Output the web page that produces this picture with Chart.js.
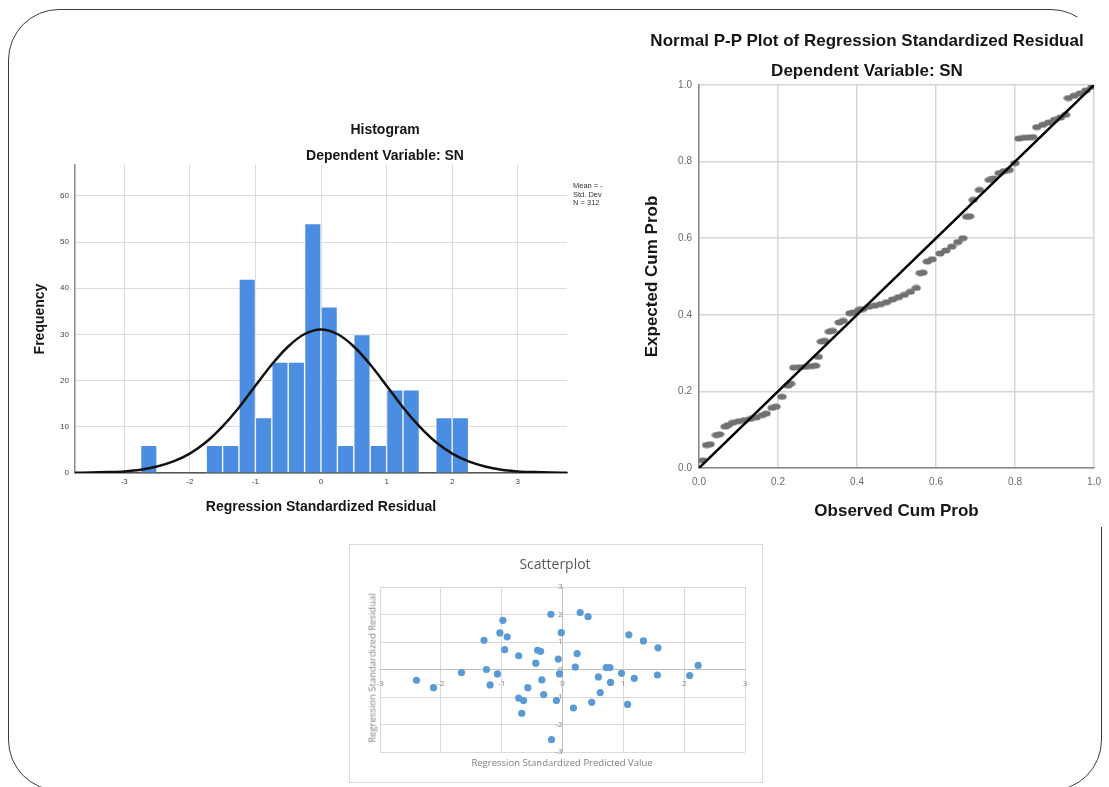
<!DOCTYPE html>
<html>
<head>
<meta charset="utf-8">
<script src="https://cdn.jsdelivr.net/npm/chart.js@4.4.0/dist/chart.umd.min.js"></script>
<style>
body { margin:0; background:#fff; width:1109px; height:787px; overflow:hidden; position:relative; font-family:"Liberation Sans", Arial, sans-serif; }
.frame { position:absolute; left:8px; top:9px; width:1094px; height:782px; border:1.5px solid #3c3c3c; border-radius:51px; box-sizing:border-box; }
.box { position:absolute; background:#fff; }
.t { position:absolute; white-space:nowrap; font-weight:bold; color:#161616; transform:translate(-50%,-50%); }
.legend { position:absolute; left:573px; top:182px; font-size:7.5px; line-height:8.5px; color:#333; width:38px; overflow:hidden; white-space:nowrap; }
.xl { position:absolute; white-space:nowrap; font-family:"Open Sans", sans-serif; color:#7f7f7f; transform:translate(-50%,-50%); }
canvas { display:block; }
</style>
</head>
<body>
<div class="frame"></div>

<!-- histogram -->
<div class="box" style="left:20px; top:100px; width:592px; height:430px; background:transparent;">
  <canvas id="hist" width="592" height="430"></canvas>
</div>
<div class="t" style="left:385px; top:129px; font-size:14px;">Histogram</div>
<div class="t" style="left:385px; top:155px; font-size:14px;">Dependent Variable: SN</div>
<div class="legend">Mean = -<br>Std. Dev<br>N = 312</div>

<!-- P-P plot -->
<div class="box" style="left:612px; top:17px; width:497px; height:510px;">
  <canvas id="pp" width="497" height="510"></canvas>
</div>
<div class="t" style="left:867px; top:41px; font-size:17px;">Normal P-P Plot of Regression Standardized Residual</div>
<div class="t" style="left:867px; top:71px; font-size:17px;">Dependent Variable: SN</div>

<!-- scatterplot -->
<div class="box" style="left:349px; top:544px; width:414px; height:239px; border:1px solid #d9d9d9; box-sizing:border-box;">
  <canvas id="scat" width="412" height="237"></canvas>
</div>
<div class="xl" style="left:555px; top:563px; font-size:14px; color:#595959;">Scatterplot</div>
<div class="xl" style="left:562px; top:762px; font-size:9.5px;">Regression Standardized Predicted Value</div>
<div class="xl" style="left:372px; top:668px; font-size:9.5px; transform:translate(-50%,-50%) rotate(-90deg);">Regression Standardized Residual</div>

<script>
// Histogram bins (width 0.25) and counts
const histBinCenters = [-2.625, -2.375, -2.125, -1.875, -1.625, -1.375, -1.125, -0.875, -0.625, -0.375,
                        -0.125, 0.125, 0.375, 0.625, 0.875, 1.125, 1.375, 1.625, 1.875, 2.125];
const histFreq = [6, 0, 0, 0, 6, 6, 42, 12, 24, 24, 54, 36, 6, 30, 6, 18, 18, 0, 12, 12];

// Normal curve
const curveX = [-3.75, -3.5, -3.25, -3, -2.75, -2.5, -2.25, -2, -1.75, -1.5, -1.25, -1, -0.75, -0.5, -0.25, 0,
                0.25, 0.5, 0.75, 1, 1.25, 1.5, 1.75, 2, 2.25, 2.5, 2.75, 3, 3.25, 3.5, 3.75];
const curveY = [0.05, 0.1, 0.2, 0.35, 0.7, 1.4, 2.5, 4.2, 6.7, 10.1, 14.2, 18.9, 23.5, 27.4, 30.1, 31.1,
                30.1, 27.4, 23.5, 18.9, 14.2, 10.1, 6.7, 4.2, 2.5, 1.4, 0.7, 0.35, 0.2, 0.1, 0.05];

// P-P plot points
const ppObserved = [0.01, 0.019, 0.028, 0.044, 0.052, 0.066, 0.074, 0.085, 0.1, 0.115, 0.13, 0.145, 0.16, 0.17,
  0.185, 0.195, 0.21, 0.225, 0.232, 0.24, 0.255, 0.27, 0.285, 0.295, 0.302, 0.31, 0.318, 0.33, 0.338, 0.355,
  0.365, 0.382, 0.39, 0.405, 0.415, 0.43, 0.445, 0.46, 0.475, 0.49, 0.505, 0.52, 0.535, 0.55, 0.56, 0.567,
  0.578, 0.59, 0.61, 0.625, 0.64, 0.655, 0.668, 0.678, 0.685, 0.694, 0.71, 0.735, 0.745, 0.76, 0.772, 0.785,
  0.80, 0.81, 0.822, 0.834, 0.845, 0.855, 0.87, 0.885, 0.9, 0.915, 0.928, 0.935, 0.95, 0.965, 0.98, 0.995];
const ppExpected = [0.02, 0.06, 0.062, 0.086, 0.088, 0.108, 0.112, 0.118, 0.122, 0.125, 0.128, 0.132, 0.138, 0.142,
  0.157, 0.16, 0.186, 0.215, 0.22, 0.262, 0.263, 0.264, 0.266, 0.267, 0.29, 0.33, 0.332, 0.356, 0.358, 0.38,
  0.384, 0.404, 0.406, 0.413, 0.415, 0.421, 0.424, 0.428, 0.433, 0.44, 0.446, 0.452, 0.46, 0.47, 0.509, 0.51,
  0.539, 0.545, 0.56, 0.568, 0.578, 0.59, 0.6, 0.656, 0.657, 0.70, 0.726, 0.752, 0.756, 0.77, 0.775, 0.778,
  0.796, 0.86, 0.862, 0.863, 0.864, 0.89, 0.896, 0.902, 0.909, 0.915, 0.922, 0.966, 0.972, 0.978, 0.986, 0.995];

// Scatterplot points
const predValue = [-2.40, -2.12, -1.66, -1.29, -1.25, -1.19, -1.07, -1.03, -0.98, -0.91, -0.95, -0.72, -0.72,
  -0.64, -0.67, -0.57, -0.44, -0.41, -0.36, -0.34, -0.31, -0.19, -0.18, -0.10, -0.07, -0.05, -0.02, 0.21, 0.24,
  0.18, 0.29, 0.42, 0.48, 0.59, 0.62, 0.72, 0.78, 0.79, 0.97, 1.07, 1.09, 1.18, 1.33, 1.57, 1.56, 2.09, 2.23];
const stdResidual = [-0.39, -0.66, -0.11, 1.06, 0.00, -0.56, -0.16, 1.33, 1.79, 1.19, 0.72, 0.50, -1.04,
  -1.13, -1.59, -0.66, 0.23, 0.70, 0.66, -0.38, -0.91, 2.01, -2.55, -1.13, 0.38, -0.16, 1.34, 0.09, 0.58,
  -1.40, 2.07, 1.92, -1.19, -0.27, -0.84, 0.07, 0.07, -0.47, -0.14, -1.27, 1.26, -0.32, 1.04, 0.79, -0.20, -0.22, 0.15];

Chart.defaults.font.family = '"Liberation Sans", Arial, sans-serif';
Chart.defaults.animation = false;
Chart.defaults.responsive = false;
Chart.defaults.plugins.legend.display = false;
Chart.defaults.plugins.tooltip.enabled = false;

// SPSS draws its P-P markers as small flat ellipses
const ellipseDot = document.createElement('canvas');
ellipseDot.width = 10;
ellipseDot.height = 7;
const ectx = ellipseDot.getContext('2d');
ectx.fillStyle = '#717171';
ectx.beginPath();
ectx.ellipse(5, 3.5, 4.6, 3, 0, 0, Math.PI * 2);
ectx.fill();

// Histogram
new Chart(document.getElementById('hist'), {
    type: 'bar',
    data: {
        datasets: [{
            type: 'line',
            data: curveX.map((x, i) => ({ x: x, y: curveY[i] })),
            borderColor: '#111',
            borderWidth: 2.5,
            pointRadius: 0,
            cubicInterpolationMode: 'monotone',
            order: 0
        }, {
            type: 'bar',
            data: histBinCenters.map((x, i) => ({ x: x, y: histFreq[i] })),
            backgroundColor: '#4b8de0',
            borderColor: 'rgba(255,255,255,0.5)',
            borderWidth: 1,
            barPercentage: 1,
            categoryPercentage: 1,
            order: 1
        }]
    },
    options: {
        layout: { padding: { left: 0, top: 65, right: 45, bottom: 0 } },
        scales: {
            x: {
                type: 'linear', min: -3.75, max: 3.75, offset: false,
                ticks: { stepSize: 1, includeBounds: false, font: { size: 8 }, color: '#444', padding: 4, maxRotation: 0 },
                grid: { color: '#dcdcdc', drawTicks: false, offset: false },
                border: { color: '#555', width: 1.5 },
                title: { display: true, text: 'Regression Standardized Residual', color: '#161616',
                         font: { size: 14, weight: 'bold' }, padding: { top: 0, bottom: 14.6 } },
                afterFit: s => { s.height = 57; }
            },
            y: {
                min: 0, max: 66.7,
                ticks: { stepSize: 10, includeBounds: false, font: { size: 8 }, color: '#444', padding: 6 },
                grid: { color: '#dcdcdc', drawTicks: false },
                border: { color: '#888', width: 1.5 },
                title: { display: true, text: 'Frequency', color: '#161616',
                         font: { size: 14, weight: 'bold' }, padding: { top: 11.6, bottom: 0 } },
                afterFit: s => { s.width = 55; }
            }
        }
    }
});

// Normal P-P plot
new Chart(document.getElementById('pp'), {
    type: 'scatter',
    data: {
        datasets: [{
            data: [{ x: 0, y: 0 }, { x: 1, y: 1 }],
            showLine: true,
            borderColor: '#000',
            borderWidth: 2.5,
            pointRadius: 0,
            order: 0
        }, {
            data: ppObserved.map((x, i) => ({ x: x, y: ppExpected[i] })),
            pointStyle: ellipseDot,
            order: 1
        }]
    },
    options: {
        layout: { padding: { left: 0, top: 68, right: 10, bottom: 0 } },
        scales: {
            x: {
                min: 0, max: 1,
                ticks: { stepSize: 0.2, font: { size: 10 }, color: '#6a6a6a', padding: 8, maxRotation: 0,
                         callback: v => v.toFixed(1) },
                grid: { color: '#d6d6d6', lineWidth: 1.5, drawTicks: false },
                border: { color: '#888', width: 1.5 },
                title: { display: true, text: 'Observed Cum Prob', color: '#161616',
                         font: { size: 17, weight: 'bold' }, padding: { top: 0, bottom: 5.8 } },
                afterFit: s => { s.height = 59; }
            },
            y: {
                min: 0, max: 1,
                ticks: { stepSize: 0.2, font: { size: 10 }, color: '#6a6a6a', padding: 7,
                         callback: v => v.toFixed(1) },
                grid: { color: '#d6d6d6', lineWidth: 1.5, drawTicks: false },
                border: { color: '#888', width: 1.5 },
                title: { display: true, text: 'Expected Cum Prob', color: '#161616',
                         font: { size: 17, weight: 'bold' }, padding: { top: 29.8, bottom: 0 } },
                afterFit: s => { s.width = 87; }
            }
        }
    }
});

// Scatterplot
new Chart(document.getElementById('scat'), {
    type: 'scatter',
    data: {
        datasets: [{
            data: predValue.map((x, i) => ({ x: x, y: stdResidual[i] })),
            backgroundColor: '#5b9bd5',
            borderWidth: 0,
            pointRadius: 3.6
        }]
    },
    options: {
        layout: { padding: { left: 30, top: 42, right: 17, bottom: 30 } },
        scales: {
            x: {
                position: { y: 0 }, min: -3, max: 3,
                ticks: { stepSize: 1, font: { family: '"Open Sans", sans-serif', size: 8 }, color: '#858585', padding: 9, maxRotation: 0 },
                grid: { color: '#d9d9d9', drawTicks: false },
                border: { color: '#bfbfbf' }
            },
            y: {
                position: { x: 0 }, min: -3, max: 3,
                ticks: { stepSize: 1, font: { family: '"Open Sans", sans-serif', size: 8 }, color: '#858585', padding: 4 },
                grid: { color: '#d9d9d9', drawTicks: false },
                border: { color: '#bfbfbf' }
            }
        }
    }
});
</script>
</body>
</html>
